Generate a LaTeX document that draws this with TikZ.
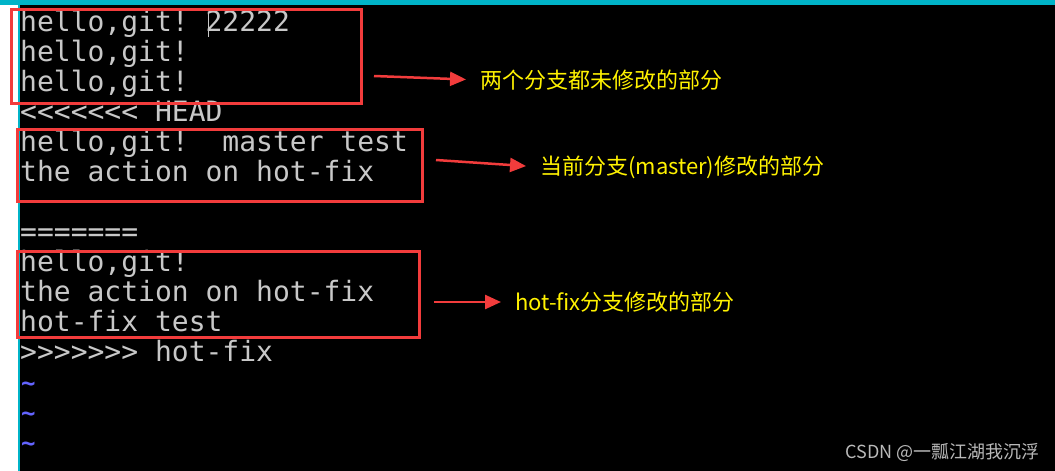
\documentclass[tikz,border=0pt]{standalone}
\usepackage{fontspec}
\setmonofont{DejaVu Sans Mono}
\newfontfamily\cjk{Noto Sans CJK SC}
\usetikzlibrary{arrows.meta}
\definecolor{termtxt}{HTML}{C8C8C8}
\definecolor{cyanbar}{HTML}{00B4C8}
\definecolor{boxred}{HTML}{F23C3C}
\definecolor{lab}{HTML}{FFF200}
\definecolor{tilde}{HTML}{6464FF}
\begin{document}
\begin{tikzpicture}[x=1pt,y=-1pt,
  term/.style={anchor=base west,inner sep=0pt,text=termtxt,font=\fontsize{28}{28}\selectfont\ttfamily},
  redbox/.style={draw=boxred,line width=2.5pt},
  lbl/.style={anchor=west,inner sep=0pt,text=lab,font=\fontsize{22}{22}\selectfont\cjk},
  arr/.style={draw=boxred,fill=boxred,line width=2.5pt,shorten >=14pt,-{Triangle[length=16pt,width=14pt]}},
  tl/.style={anchor=base west,inner sep=0pt,text=tilde,font=\fontsize{24}{24}\selectfont\ttfamily\bfseries}]
\useasboundingbox (0,0) rectangle (1055,471);
\fill[white] (0,0) rectangle (1055,471);
\fill[black] (19,5) rectangle (1055,471);
\fill[cyanbar] (0,0) rectangle (1055,5);
\fill[cyanbar] (18,5) rectangle (19.5,471);
\node[term] (l1) at (20,31) {hello,git! 22222};
\draw[termtxt,line width=0.8pt] (208,12) -- (208,37);
\node[term] (l2) at (20,61) {hello,git!};
\node[term] (l3) at (20,91) {hello,git!};
\node[term] (l4) at (20,121) {<<<<<<< HEAD};
\node[term] (l5) at (20,151) {hello,git!\ \ master test};
\node[term] (l6) at (20,181) {the action on hot-fix};
\node[term] (l7) at (20,241) {=======};
\node[term] (l8) at (20,271) {hello,git!};
\node[term] (l9) at (20,301) {the action on hot-fix};
\node[term] (l10) at (20,331) {hot-fix test};
\node[term] (l11) at (20,361) {>>>>>>> hot-fix};
\node[tl] (t1) at (21,391) {\char`\~};
\node[tl] (t2) at (21,421) {\char`\~};
\node[tl] (t3) at (21,451) {\char`\~};
\node[redbox,anchor=north west,minimum width=350pt,minimum height=94pt,inner sep=0pt] (b1) at (10,8) {};
\node[redbox,anchor=north west,minimum width=405pt,minimum height=72pt,inner sep=0pt] (b2) at (16,128) {};
\node[redbox,anchor=north west,minimum width=402pt,minimum height=86pt,inner sep=0pt] (b3) at (16,250) {};
\node[lbl] (n1) at (480,80) {两个分支都未修改的部分};
\node[lbl] (n2) at (540,167) {当前分支(master)修改的部分};
\node[lbl] (n3) at (515,302) {hot-fix分支修改的部分};
\coordinate (a1) at (374,76);
\coordinate (a2) at (436,160);
\coordinate (a3) at (434,302);
\draw[arr] (a1) -- (n1.west);
\draw[arr] (a2) -- (n2.west);
\draw[arr] (a3) -- (n3.west);
\node[anchor=east,inner sep=0pt,text=termtxt!80!gray,font=\fontsize{18}{18}\selectfont\cjk] (wm) at (1040,452) {CSDN @一瓢江湖我沉浮};
\end{tikzpicture}
\end{document}
